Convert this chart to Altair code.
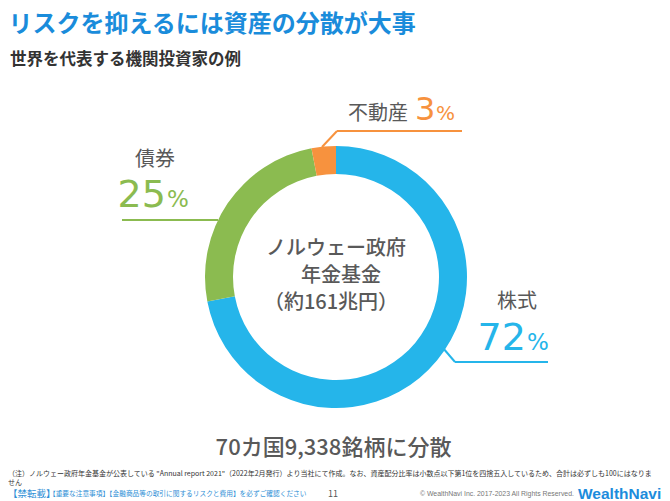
import altair as alt
import pandas as pd

# ---- data ----
categories = ["株式", "債券", "不動産"]
shares = [72, 25, 3]
colors = ["#25B5EA", "#8BBB50", "#F7923E"]

title_text = "リスクを抑えるには資産の分散が大事"
subtitle_text = "世界を代表する機関投資家の例"
center_lines = ["ノルウェー政府", " 年金基金", "（約161兆円）"]
summary_text = "70カ国9,338銘柄に分散"
note_line1 = ("（注）ノルウェー政府年金基金が公表している \"Annual report 2021\"（2022年2月発行）より当社にて作成。"
              "なお、資産配分比率は小数点以下第1位を四捨五入しているため、合計は必ずしも100にはなりま")
note_line2 = "せん"
footer_left1 = "【禁転載】"
footer_left2 = "【重要な注意事項】【金融商品等の取引に関するリスクと費用】を必ずご確認ください"
page_no = "11"
copyright_text = "© WealthNavi Inc. 2017-2023 All Rights Reserved."
brand = "WealthNavi"

JP = "Noto Sans CJK JP"
NUM = "DejaVu Sans"
GREY = "#595959"

W, H = 654, 493
CX, CY = 328, 269

pie_df = pd.DataFrame({"cat": categories, "share": shares, "idx": list(range(len(shares)))})

donut = alt.Chart(pie_df).mark_arc(innerRadius=103, outerRadius=131).encode(
    theta=alt.Theta("share:Q", stack=True),
    color=alt.Color("cat:N", scale=alt.Scale(domain=categories, range=colors), legend=None),
    order=alt.Order("idx:Q"),
    x=alt.value(CX),
    y=alt.value(CY),
)

layers = [donut]

# leader lines (annotation layout)
leaders = {
    0: [(435, 340, 447, 354), (447, 354, 540, 354)],
    1: [(114, 212, 210, 212)],
    2: [(314, 139, 329, 123), (329, 123, 454, 123)],
}
for i, segs in leaders.items():
    d = pd.DataFrame(segs, columns=["x", "y", "x2", "y2"])
    layers.append(
        alt.Chart(d).mark_rule(color=colors[i], strokeWidth=2).encode(
            x=alt.X("x:Q", scale=None),
            y=alt.Y("y:Q", scale=None),
            x2="x2:Q",
            y2="y2:Q",
        )
    )


def txt(s, x, y, size, color, weight="normal", align="left", baseline="alphabetic", font=JP):
    return alt.Chart(pd.DataFrame({"t": [s]})).mark_text(
        font=font, fontSize=size, color=color, fontWeight=weight,
        align=align, baseline=baseline,
    ).encode(text="t:N", x=alt.value(x), y=alt.value(y))


# titles
layers.append(txt(title_text, 0.5, 17, 24, "#1A8CDB", weight="bold", baseline="middle"))
layers.append(txt(subtitle_text, 2, 52, 16.5, "#333333", weight="bold", baseline="middle"))

# category labels and percentages (chart coordinates)
label_layout = {
    0: dict(lx=489, ly=293.5, nx=469.5, ny=342, nsize=38, psize=23, px=519),
    1: dict(lx=127, ly=151.5, nx=109.5, ny=199, nsize=38, psize=23, px=159),
    2: dict(lx=340, ly=105.5, nx=407, ny=112, nsize=32, psize=20, px=428),
}
for i, lay in label_layout.items():
    layers.append(txt(categories[i], lay["lx"], lay["ly"], 20, GREY, baseline="middle"))
    layers.append(txt(str(shares[i]), lay["nx"], lay["ny"], lay["nsize"], colors[i], font=NUM))
    layers.append(txt("%", lay["px"], lay["ny"], lay["psize"], colors[i], font=NUM))

# center text
center_pos = [(328, 241), (333, 268), (323, 295)]
for s, (x, y) in zip(center_lines, center_pos):
    layers.append(txt(s, x, y, 20, GREY, weight=500, align="center", baseline="middle"))

layers.append(txt(summary_text, 325.5, 440, 22, GREY, weight=500, align="center", baseline="middle"))

# footnote and footer
layers.append(txt(note_line1, 0, 466, 7.0, "#333333", baseline="middle"))
layers.append(txt(note_line2, 0, 475, 7.0, "#333333", baseline="middle"))
layers.append(txt(footer_left1, 0, 486, 9.5, "#2E8FD6", baseline="middle"))
layers.append(txt(footer_left2, 41, 486, 6.7, "#2E8FD6", baseline="middle"))
layers.append(txt(page_no, 325, 486, 9, "#555555", align="center", baseline="middle"))
layers.append(txt(copyright_text, 412, 486, 6.9, "#777777", baseline="middle", font="Liberation Sans"))
layers.append(txt(brand, 570, 485.5, 15.5, "#1C8CDC", weight="bold", baseline="middle", font="Liberation Sans"))

chart = alt.layer(*layers).properties(
    width=W, height=H, padding=0,
    autosize=alt.AutoSizeParams(type="none"),
    background="white",
).configure_view(stroke=None)

chart.save("out.html", embed_options={"renderer": "svg", "actions": False})
